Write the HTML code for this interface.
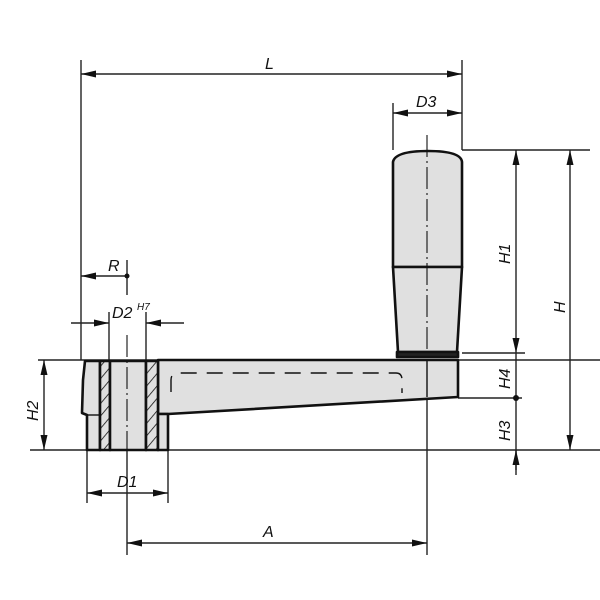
<!DOCTYPE html>
<html><head><meta charset="utf-8"><style>html,body{margin:0;padding:0;background:#fff}svg{display:block}
text{font-family:"Liberation Sans",sans-serif;font-style:italic;font-size:16px;fill:#111}</style></head>
<body>
<svg width="600" height="600" viewBox="0 0 600 600" xmlns="http://www.w3.org/2000/svg">
<defs>
<marker id="a" viewBox="0 0 15 7" refX="15" refY="3.5" markerWidth="15" markerHeight="7" orient="auto-start-reverse" markerUnits="userSpaceOnUse"><path d="M0,0 L15,3.5 L0,7 z" fill="#111"/></marker>
<pattern id="h" width="8" height="8" patternUnits="userSpaceOnUse" patternTransform="rotate(-50)"><rect width="8" height="8" fill="#e0e0e0"/><line x1="0" y1="0" x2="8" y2="0" stroke="#111" stroke-width="1.6"/></pattern>
</defs>
<g stroke="#222" stroke-width="1.4" fill="none">
<line x1="38" y1="360" x2="600" y2="360"/>
<line x1="30" y1="450" x2="600" y2="450"/>
<line x1="458" y1="398" x2="522" y2="398"/>
<line x1="462" y1="150" x2="590" y2="150"/>
<line x1="462" y1="353" x2="525" y2="353"/>
<line x1="81" y1="60" x2="81" y2="360"/>
<line x1="462" y1="60" x2="462" y2="150"/>
<line x1="393" y1="103" x2="393" y2="150"/>
<line x1="127" y1="260" x2="127" y2="295"/>
<line x1="109" y1="312" x2="109" y2="360"/>
<line x1="146" y1="312" x2="146" y2="360"/>
<line x1="87" y1="450" x2="87" y2="503"/>
<line x1="168" y1="450" x2="168" y2="503"/>
<line x1="127" y1="450" x2="127" y2="555"/>
<line x1="427" y1="398" x2="427" y2="555"/>
<line x1="81" y1="74" x2="462" y2="74" marker-start="url(#a)" marker-end="url(#a)"/>
<line x1="393" y1="113" x2="462" y2="113" marker-start="url(#a)" marker-end="url(#a)"/>
<line x1="516" y1="150" x2="516" y2="353" marker-start="url(#a)" marker-end="url(#a)"/>
<line x1="570" y1="150" x2="570" y2="450" marker-start="url(#a)" marker-end="url(#a)"/>
<line x1="516" y1="353" x2="516" y2="398"/>
<line x1="516" y1="398" x2="516" y2="470"/>
<line x1="516" y1="475" x2="516" y2="450" marker-end="url(#a)"/>
<line x1="44" y1="360" x2="44" y2="450" marker-start="url(#a)" marker-end="url(#a)"/>
<line x1="87" y1="493" x2="168" y2="493" marker-start="url(#a)" marker-end="url(#a)"/>
<line x1="127" y1="543" x2="427" y2="543" marker-start="url(#a)" marker-end="url(#a)"/>
<line x1="127" y1="276" x2="81" y2="276" marker-end="url(#a)"/>
<line x1="71" y1="323" x2="109" y2="323" marker-end="url(#a)"/>
<line x1="184" y1="323" x2="146" y2="323" marker-end="url(#a)"/>
</g>
<circle cx="127" cy="276" r="2.5" fill="#111"/>
<circle cx="516" cy="398" r="3" fill="#111"/>
<g stroke="#111" stroke-width="2.6" fill="#e0e0e0" stroke-linejoin="round">
<path d="M158,360 L458,360 L458,397 L168,414 L158,414 Z"/>
<path d="M85,361 L100,361 L100,450 L87,450 L87,415 L82,413 L83,380 Z"/>
<rect x="100" y="361" width="10" height="89" fill="url(#h)"/>
<rect x="110" y="361" width="36" height="89"/>
<rect x="146" y="361" width="12" height="89" fill="url(#h)"/>
<path d="M158,414 L168,414 L168,450 L158,450 Z"/>
<path d="M393,162 Q395,151 428,151 Q461,151 462,162 L462,267 L393,267 Z"/>
<path d="M393,267 L462,267 L457,352 L398,352 Z"/>
<rect x="397" y="352" width="61" height="5" fill="#222"/>
</g>
<g stroke="#111" stroke-width="1.4" fill="none">
<line x1="427" y1="360" x2="427" y2="397"/>
<path d="M171,392 L171,380 Q171,373 178,373 L396,373 Q402,373 402,380 L402,393" stroke-dasharray="16,10"/>
<line x1="100" y1="415" x2="87" y2="415"/>
</g>
<g stroke="#111" stroke-width="1.1" stroke-dasharray="22,4,2,4">
<line x1="127" y1="335" x2="127" y2="450"/>
<line x1="427" y1="135" x2="427" y2="350"/>
</g>
<text x="265" y="69">L</text>
<text x="416" y="107">D3</text>
<text x="108" y="271">R</text>
<text x="112" y="318">D2</text><text x="137" y="310" style="font-size:10px">H7</text>
<text x="117" y="487">D1</text>
<text x="263" y="537">A</text>
<text transform="translate(510,264) rotate(-90)">H1</text>
<text transform="translate(565,313) rotate(-90)">H</text>
<text transform="translate(510,389) rotate(-90)">H4</text>
<text transform="translate(510,441) rotate(-90)">H3</text>
<text transform="translate(38,421) rotate(-90)">H2</text>
</svg>
</body></html>
